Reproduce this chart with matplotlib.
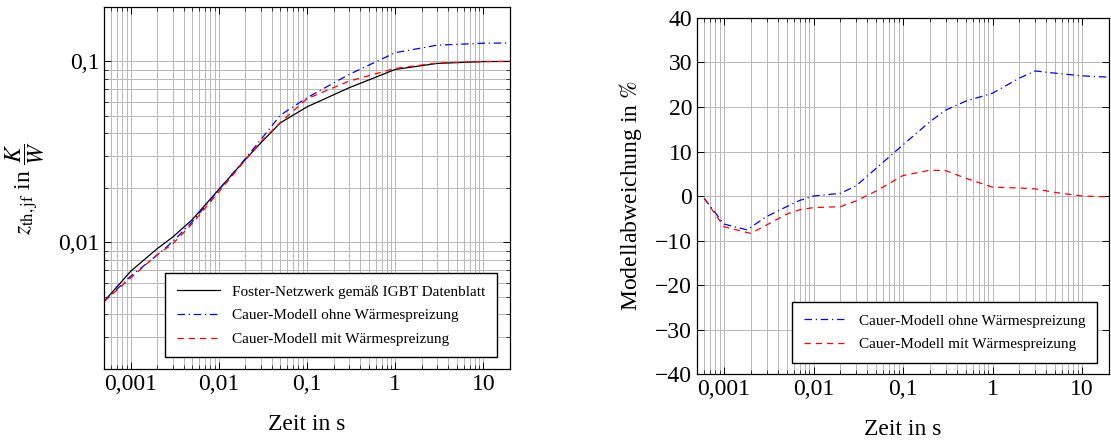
import matplotlib
matplotlib.use("Agg")
import matplotlib.pyplot as plt
import numpy as np
from matplotlib.ticker import LogLocator, FixedLocator, FuncFormatter, NullFormatter

plt.rcParams['font.family'] = 'serif'
plt.rcParams['font.serif'] = ['Liberation Serif', 'DejaVu Serif']
plt.rcParams['mathtext.fontset'] = 'stix'

# left: thermal impedance over time
t_z = [5e-4, 0.001, 0.002, 0.003, 0.005, 0.01, 0.02, 0.03, 0.05, 0.1, 0.3, 1, 3, 10, 20]
z_foster = [0.00472, 0.00692, 0.00923, 0.0107, 0.01336, 0.0196, 0.0287, 0.0355, 0.0458,
            0.0561, 0.0715, 0.0903, 0.0975, 0.0998, 0.1]
z_ohne = [0.00472, 0.0065, 0.0085, 0.0101, 0.0130, 0.0195, 0.029, 0.037, 0.0505,
          0.063, 0.0847, 0.1117, 0.123, 0.126, 0.1265]
z_mit = [0.00472, 0.00635, 0.00855, 0.0098, 0.0127, 0.019, 0.0285, 0.036, 0.046,
         0.0622, 0.0778, 0.0915, 0.098, 0.0999, 0.1]

# right: model deviation in percent
t_d = [6e-4, 0.001, 0.0018, 0.002, 0.003, 0.005, 0.007, 0.01, 0.02, 0.03, 0.05, 0.1,
       0.2, 0.3, 0.5, 1, 2, 3, 5, 10, 20]
d_ohne = [-0.5, -6.3, -7.6, -7.0, -4.6, -2.4, -1.0, 0.0, 0.6, 2.3, 6.2, 11.5,
          16.7, 19.3, 21.3, 23.1, 26.5, 28.1, 27.6, 27.0, 26.7]
d_mit = [-0.5, -6.9, -8.2, -8.4, -6.5, -4.1, -3.1, -2.6, -2.4, -1.1, 1.1, 4.6,
         5.8, 5.7, 4.0, 2.0, 1.8, 1.6, 0.8, 0.0, -0.2]

lbl_foster = "Foster-Netzwerk gemäß IGBT Datenblatt"
lbl_ohne = "Cauer-Modell ohne Wärmespreizung"
lbl_mit = "Cauer-Modell mit Wärmespreizung"

x_ticks = [0.001, 0.01, 0.1, 1, 10]
x_ticklabels = ["0,001", "0,01", "0,1", "1", "10"]

dashdot = (0, (6, 3, 1, 3))
dashed = (0, (5, 4))
grid_c = "#b8b8b8"

fig = plt.figure(figsize=(11.11, 4.41), dpi=100)
ax1 = fig.add_axes([0.0936, 0.1633, 0.3654, 0.821])
ax2 = fig.add_axes([0.6274, 0.1519, 0.3708, 0.8073])

def style_x(ax):
    ax.set_xscale('log')
    ax.set_xlim(5e-4, 20)
    ax.xaxis.set_major_locator(FixedLocator(x_ticks))
    ax.set_xticklabels(x_ticklabels)
    ax.xaxis.set_minor_locator(LogLocator(base=10, subs=np.arange(2, 10)))
    ax.xaxis.set_minor_formatter(NullFormatter())
    ax.tick_params(which='both', direction='in', top=True, right=True, labelsize=17)
    ax.tick_params(which='major', length=5, width=0.7)
    ax.tick_params(which='minor', length=3, width=0.5)
    ax.set_xlabel("Zeit in s", fontsize=17, labelpad=14)
    for s in ax.spines.values():
        s.set_linewidth(0.9)

# left plot
ax1.plot(t_z, z_foster, color='black', lw=0.9, label=lbl_foster)
ax1.plot(t_z, z_ohne, color='blue', lw=0.9, linestyle=dashdot, label=lbl_ohne)
ax1.plot(t_z, z_mit, color='red', lw=0.9, linestyle=dashed, label=lbl_mit)
ax1.set_yscale('log')
ax1.set_ylim(0.002, 0.2)
style_x(ax1)
ax1.yaxis.set_major_locator(FixedLocator([0.01, 0.1]))
ax1.yaxis.set_major_formatter(FuncFormatter(lambda v, p: {0.01: "0,01", 0.1: "0,1"}.get(round(v, 3), "")))
ax1.yaxis.set_minor_locator(LogLocator(base=10, subs=np.arange(2, 10)))
ax1.yaxis.set_minor_formatter(NullFormatter())
ax1.grid(True, which='both', color=grid_c, lw=0.7)
ax1.set_axisbelow(True)
ax1.set_ylabel(r"$z_{\mathrm{th,jf}}$ in $\dfrac{K}{W}$", fontsize=17, labelpad=8)
ax1.legend(loc='lower right', bbox_to_anchor=(0.967, 0.032), borderaxespad=0,
           fontsize=11, fancybox=False, framealpha=1, edgecolor='black',
           handlelength=2.8, labelspacing=0.65, borderpad=0.75)

# right plot
ax2.plot(t_d, d_ohne, color='blue', lw=0.9, linestyle=dashdot, label=lbl_ohne)
ax2.plot(t_d, d_mit, color='red', lw=0.9, linestyle=dashed, label=lbl_mit)
ax2.set_ylim(-40, 40)
ax2.set_yticks(np.arange(-40, 41, 10))
ax2.set_yticklabels([f"{v}".replace("-", "\u2212") for v in range(-40, 41, 10)])
style_x(ax2)
ax2.grid(True, which='major', axis='y', color=grid_c, lw=0.7)
ax2.grid(True, which='both', axis='x', color=grid_c, lw=0.7)
ax2.set_axisbelow(True)
ax2.set_ylabel(r"Modellabweichung in $\%$", fontsize=17, labelpad=8)
ax2.legend(loc='lower right', bbox_to_anchor=(0.970, 0.032), borderaxespad=0,
           fontsize=11, fancybox=False, framealpha=1, edgecolor='black',
           handlelength=2.8, labelspacing=0.65, borderpad=0.75)

fig.savefig("out.png", dpi=100)
